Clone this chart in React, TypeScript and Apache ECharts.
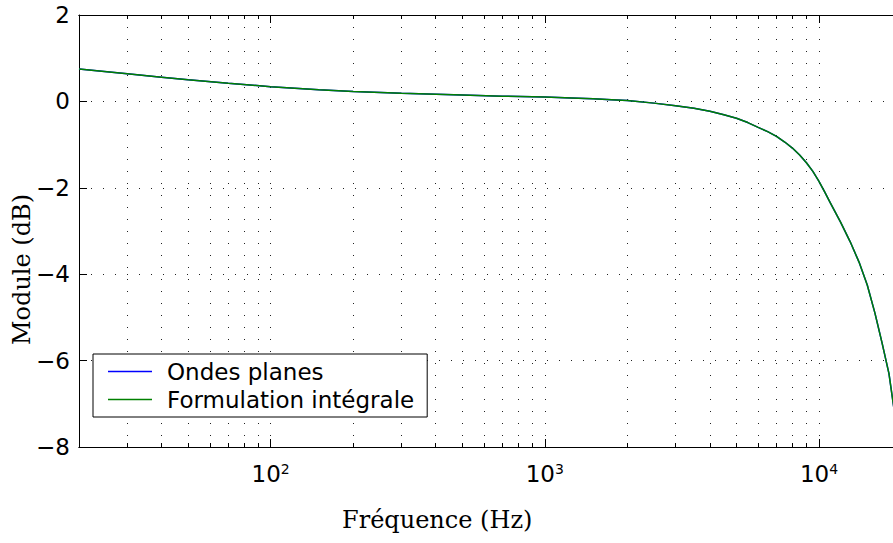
import React, { useEffect, useRef } from "react";
import * as echarts from "echarts";

const frequencies = [
  20, 30, 40, 50, 70, 100, 150, 200, 300, 500, 700, 1000, 1250, 1500, 1750,
  2000, 2500, 3000, 3500, 4000, 4500, 5000, 5500, 6000, 6500, 7000, 7500,
  8000, 8500, 9000, 9500, 10000, 10500, 11000, 12000, 13000, 14000, 15000,
  16000, 17000, 18000, 19000, 20000,
];
const moduleOndesPlanes = [
  0.75, 0.64, 0.56, 0.5, 0.42, 0.34, 0.27, 0.23, 0.19, 0.15, 0.12, 0.1, 0.08,
  0.06, 0.04, 0.02, -0.04, -0.1, -0.16, -0.23, -0.31, -0.39, -0.49, -0.6,
  -0.7, -0.81, -0.94, -1.08, -1.24, -1.42, -1.62, -1.85, -2.1, -2.35, -2.8,
  -3.25, -3.72, -4.25, -4.9, -5.6, -6.3, -7.35, -8.4,
];
const moduleFormulation = [
  0.75, 0.64, 0.56, 0.5, 0.42, 0.34, 0.27, 0.23, 0.19, 0.15, 0.12, 0.1, 0.08,
  0.06, 0.04, 0.02, -0.04, -0.1, -0.16, -0.23, -0.31, -0.39, -0.49, -0.6,
  -0.7, -0.81, -0.94, -1.08, -1.24, -1.42, -1.62, -1.85, -2.1, -2.35, -2.8,
  -3.25, -3.72, -4.25, -4.9, -5.6, -6.3, -7.35, -8.4,
];
const majorTicksX = [100, 1000, 10000];
const minorTicksX = [
  20, 30, 40, 50, 60, 70, 80, 90, 200, 300, 400, 500, 600, 700, 800, 900,
  2000, 3000, 4000, 5000, 6000, 7000, 8000, 9000,
];
const seriesNames = ["Ondes planes", "Formulation intégrale"];
const xTitle = "Fréquence (Hz)";
const yTitle = "Module (dB)";
const xMin = 20;
const xMaxVisible = 18620;

const SANS = "DejaVu Sans";
const SERIF = "DejaVu Serif";
const dotted = { color: "#222", width: 1, type: [1, 11] as number[] };

export default function App() {
  const ref = useRef<HTMLDivElement>(null);
  useEffect(() => {
    if (!ref.current) return;
    const chart = echarts.init(ref.current, null, { renderer: "svg" });
    const baseX = {
      type: "log",
      logBase: 10,
      min: xMin,
      max: xMaxVisible,
      gridIndex: 0,
      axisLine: { show: true, onZero: false, lineStyle: { color: "#000", width: 1 } },
      axisLabel: { show: false },
      splitLine: { show: false },
      minorTick: { show: false },
      minorSplitLine: { show: false },
    };
    const pair = (a: number[]) => frequencies.map((f, i) => [f, a[i]]);
    chart.setOption({
      animation: false,
      backgroundColor: "#fff",
      grid: { left: 79, top: 15, right: 0, bottom: 96, containLabel: false },
      xAxis: [
        {
          ...baseX,
          position: "bottom",
          axisTick: { show: true, inside: true, length: 8, customValues: majorTicksX, lineStyle: { color: "#000" } },
          axisLabel: {
            show: true,
            customValues: majorTicksX,
            margin: 15,
            formatter: (v: number) => `{b|10}{s|${Math.round(Math.log10(v))}}`,
            rich: {
              b: { fontFamily: SANS, fontSize: 23, color: "#000", lineHeight: 24 },
              s: { fontFamily: SANS, fontSize: 14, color: "#000", verticalAlign: "top", lineHeight: 14 },
            },
          },
          splitLine: { show: true, lineStyle: dotted },
        },
        {
          ...baseX,
          position: "bottom",
          axisTick: { show: true, inside: true, length: 4, customValues: minorTicksX, lineStyle: { color: "#000" } },
          splitLine: { show: true, lineStyle: dotted },
        },
        {
          ...baseX,
          position: "top",
          axisTick: { show: true, inside: true, length: 8, customValues: majorTicksX, lineStyle: { color: "#000" } },
        },
        {
          ...baseX,
          position: "top",
          axisTick: { show: true, inside: true, length: 4, customValues: minorTicksX, lineStyle: { color: "#000" } },
        },
      ],
      yAxis: {
        type: "value",
        min: -8,
        max: 2,
        interval: 2,
        axisLine: { show: true, lineStyle: { color: "#000", width: 1 } },
        axisTick: { show: true, inside: true, length: 8, lineStyle: { color: "#000" } },
        axisLabel: {
          fontFamily: SANS,
          fontSize: 23,
          color: "#000",
          margin: 9,
          formatter: (v: number) => (v < 0 ? "\u2212" + Math.abs(v) : String(v)),
        },
        splitLine: { show: true, lineStyle: dotted },
      },
      legend: {
        orient: "vertical",
        left: 93,
        top: 354,
        padding: [6, 13, 6, 15],
        itemGap: 5,
        itemWidth: 44,
        itemHeight: 1.5,
        icon: "rect",
        backgroundColor: "#fff",
        borderColor: "#000",
        borderWidth: 1,
        borderRadius: 0,
        textStyle: { fontFamily: SANS, fontSize: 23, color: "#000", padding: [0, 0, 0, 10] },
        data: seriesNames,
      },
      graphic: [
        {
          type: "text",
          left: 437 - 95,
          top: 508,
          style: { text: xTitle, font: `24px "${SERIF}"`, fill: "#000" },
        },
        {
          type: "text",
          x: 10,
          y: 345,
          rotation: Math.PI / 2,
          style: { text: yTitle, font: `24px "${SERIF}"`, fill: "#000", verticalAlign: "top" },
        },
      ],
      series: [
        {
          name: seriesNames[0],
          type: "line",
          xAxisIndex: 0,
          data: pair(moduleOndesPlanes),
          showSymbol: false,
          symbol: "none",
          smooth: false,
          lineStyle: { color: "#0000ff", width: 1.5 },
          itemStyle: { color: "#0000ff" },
        },
        {
          name: seriesNames[1],
          type: "line",
          xAxisIndex: 0,
          data: pair(moduleFormulation),
          showSymbol: false,
          symbol: "none",
          smooth: false,
          lineStyle: { color: "#008000", width: 1.5 },
          itemStyle: { color: "#008000" },
        },
      ],
    });
    return () => chart.dispose();
  }, []);
  return (
    <div
      ref={ref}
      style={{ position: "fixed", left: 0, top: 0, width: 893, height: 543, background: "#fff" }}
    />
  );
}
